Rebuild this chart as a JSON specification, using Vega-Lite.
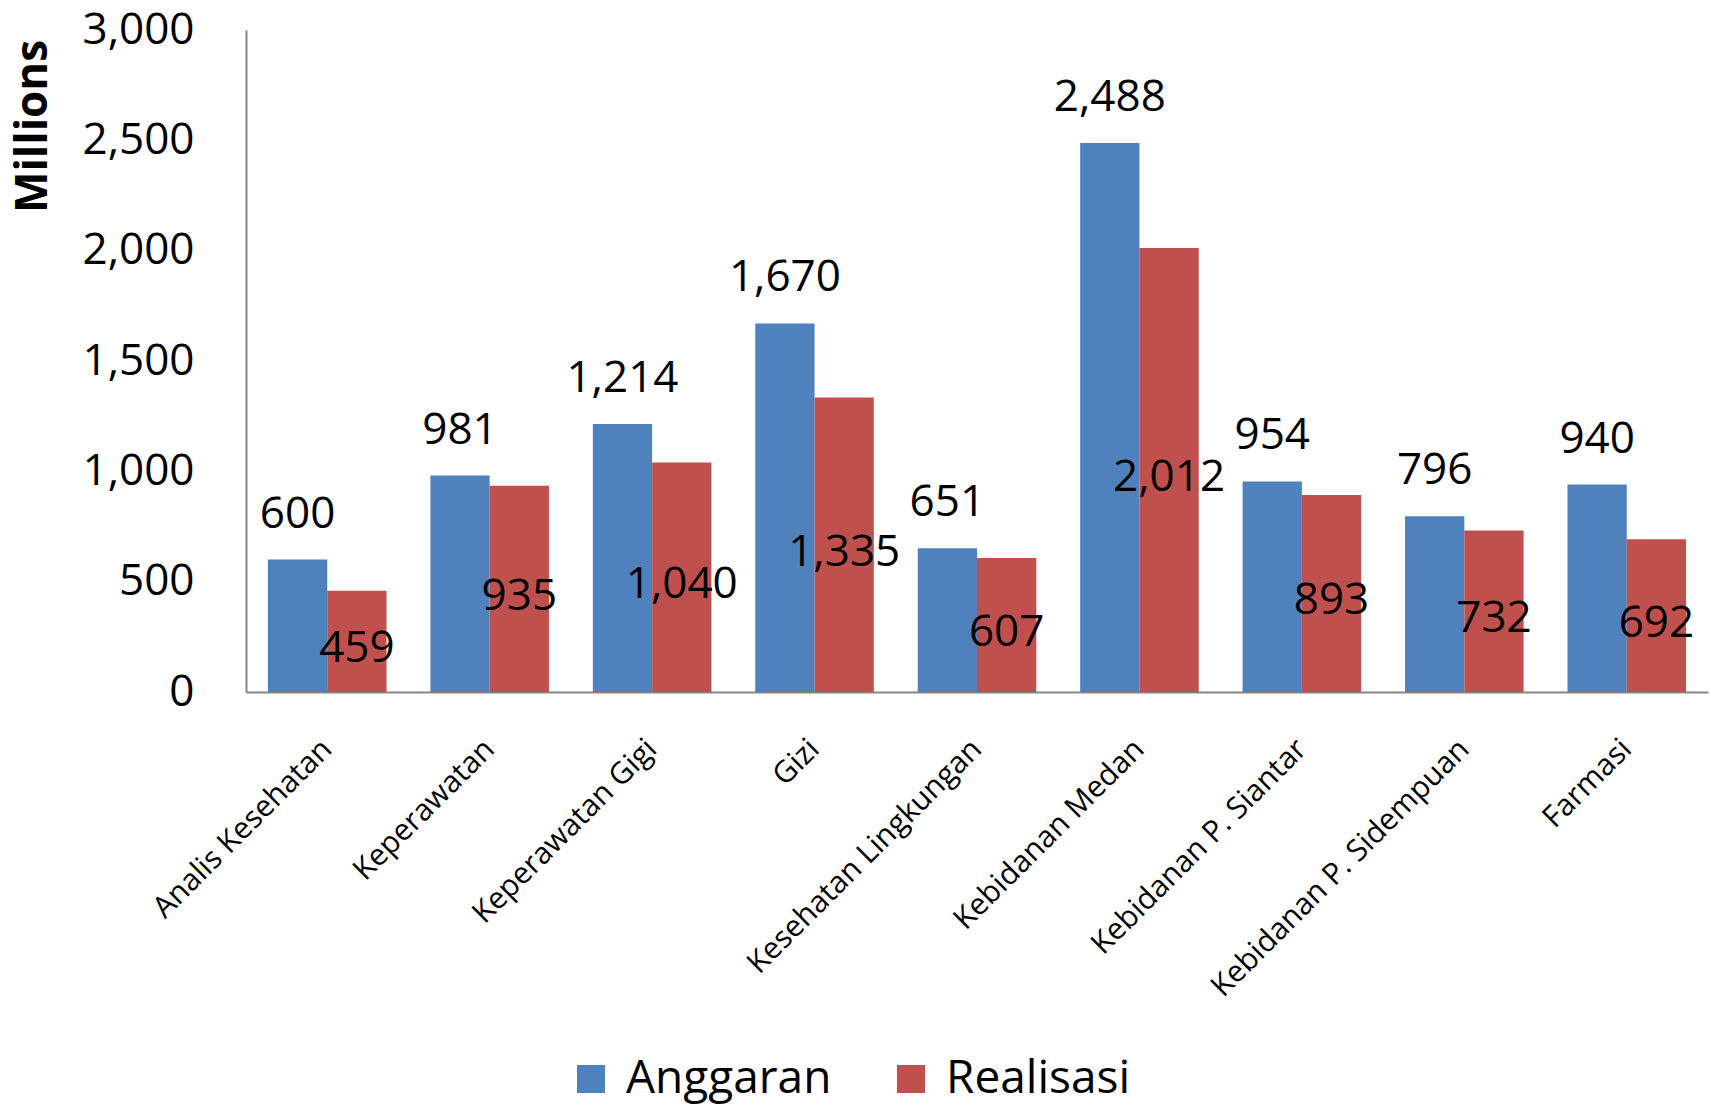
{
  "$schema": "https://vega.github.io/schema/vega-lite/v6.json",
  "autosize": {"type": "none"},
  "padding": {"left": 246, "top": 30, "right": 9, "bottom": 413},
  "width": 1462,
  "height": 662,
  "background": "white",
  "config": {
    "view": {"stroke": null},
    "font": "Open Sans",
    "text": {"font": "Open Sans"}
  },
  "data": {
    "values": [
      {"kategori": "Analis Kesehatan", "seri": "Anggaran", "nilai": 600},
      {"kategori": "Analis Kesehatan", "seri": "Realisasi", "nilai": 459},
      {"kategori": "Keperawatan", "seri": "Anggaran", "nilai": 981},
      {"kategori": "Keperawatan", "seri": "Realisasi", "nilai": 935},
      {"kategori": "Keperawatan Gigi", "seri": "Anggaran", "nilai": 1214},
      {"kategori": "Keperawatan Gigi", "seri": "Realisasi", "nilai": 1040},
      {"kategori": "Gizi", "seri": "Anggaran", "nilai": 1670},
      {"kategori": "Gizi", "seri": "Realisasi", "nilai": 1335},
      {"kategori": "Kesehatan Lingkungan", "seri": "Anggaran", "nilai": 651},
      {"kategori": "Kesehatan Lingkungan", "seri": "Realisasi", "nilai": 607},
      {"kategori": "Kebidanan Medan", "seri": "Anggaran", "nilai": 2488},
      {"kategori": "Kebidanan Medan", "seri": "Realisasi", "nilai": 2012},
      {"kategori": "Kebidanan P. Siantar", "seri": "Anggaran", "nilai": 954},
      {"kategori": "Kebidanan P. Siantar", "seri": "Realisasi", "nilai": 893},
      {"kategori": "Kebidanan P. Sidempuan", "seri": "Anggaran", "nilai": 796},
      {"kategori": "Kebidanan P. Sidempuan", "seri": "Realisasi", "nilai": 732},
      {"kategori": "Farmasi", "seri": "Anggaran", "nilai": 940},
      {"kategori": "Farmasi", "seri": "Realisasi", "nilai": 692}
    ]
  },
  "encoding": {
    "x": {
      "field": "kategori",
      "type": "nominal",
      "sort": null,
      "scale": {"paddingInner": 0.27, "paddingOuter": 0.135},
      "axis": {
        "title": null,
        "labelAngle": -45,
        "labelAlign": "right",
        "labelBaseline": "middle",
        "labelFontSize": 30,
        "labelColor": "black",
        "labelPadding": 52,
        "labelLimit": 0,
        "ticks": false,
        "domainColor": "#868686",
        "domainWidth": 2
      }
    },
    "xOffset": {"field": "seri", "type": "nominal", "scale": {"domain": ["Anggaran", "Realisasi"]}}
  },
  "layer": [
    {
      "mark": {"type": "bar"},
      "encoding": {
        "y": {
          "field": "nilai",
          "type": "quantitative",
          "scale": {"domain": [0, 3000], "nice": false},
          "axis": {
            "title": "Millions",
            "titleFontSize": 44,
            "titleFontWeight": "bold",
            "titleColor": "black",
            "titleAngle": 270,
            "titleX": -213,
            "titleY": 96,
            "titleAlign": "center",
            "titleBaseline": "middle",
            "values": [0, 500, 1000, 1500, 2000, 2500, 3000],
            "format": ",d",
            "labelFontSize": 44,
            "labelColor": "black",
            "labelPadding": 52,
            "ticks": false,
            "grid": false,
            "domainColor": "#868686",
            "domainWidth": 2
          }
        },
        "color": {
          "field": "seri",
          "type": "nominal",
          "scale": {"domain": ["Anggaran", "Realisasi"], "range": ["#4F81BD", "#C0504D"]},
          "legend": {
            "title": null,
            "orient": "none",
            "direction": "horizontal",
            "legendX": 322,
            "legendY": 1026,
            "symbolType": "square",
            "symbolSize": 784,
            "symbolStrokeWidth": 0,
            "symbolOpacity": 1,
            "labelFontSize": 46,
            "labelColor": "black",
            "labelLimit": 0,
            "labelOffset": 12,
            "columnPadding": 56
          }
        }
      }
    },
    {
      "transform": [{"filter": "datum.seri === 'Anggaran'"}],
      "mark": {"type": "text", "fontSize": 44, "color": "black", "baseline": "alphabetic", "dy": -32},
      "encoding": {
        "y": {"field": "nilai", "type": "quantitative", "scale": {"domain": [0, 3000], "nice": false}, "axis": null},
        "text": {"field": "nilai", "type": "quantitative", "format": ",d"}
      }
    },
    {
      "transform": [{"filter": "datum.seri === 'Realisasi'"}],
      "mark": {"type": "text", "fontSize": 44, "color": "black", "baseline": "middle", "dy": 8},
      "encoding": {
        "y": {"field": "nilai", "type": "quantitative", "scale": {"domain": [0, 6000], "nice": false}, "axis": null},
        "text": {"field": "nilai", "type": "quantitative", "format": ",d"}
      }
    }
  ],
  "resolve": {"scale": {"y": "independent"}}
}
